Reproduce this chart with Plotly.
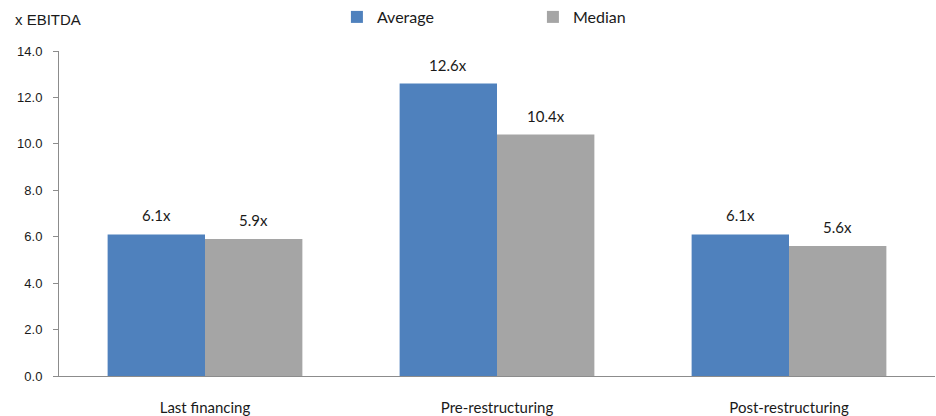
import plotly.graph_objects as go

categories = ["Last financing", "Pre-restructuring", "Post-restructuring"]
average = [6.1, 12.6, 6.1]
median = [5.9, 10.4, 5.6]
y_ticks = [0, 2, 4, 6, 8, 10, 12, 14]

series = [("Average", average, "#4f81bd"), ("Median", median, "#a5a5a5")]

label_font = dict(family="Lato, Carlito, sans-serif", size=15, color="#1a1a1a")
axis_font = dict(family="Liberation Sans, Arial, sans-serif", size=13, color="#1a1a1a")

fig = go.Figure()
for name, values, color in series:
    fig.add_trace(go.Bar(
        name=name, x=categories, y=values,
        marker=dict(color=color, line=dict(width=0)),
        hoverinfo="x+y",
    ))

# value labels above each bar, offset half a bar width to the left/right of the category centre
plot_w = 936 - 59 - 1
half_bar = plot_w / len(categories) * (1 - 0.333) / 2 / 2
annotations = []
for s, (name, values, color) in enumerate(series):
    shift = -half_bar if s == 0 else half_bar
    for cat, v in zip(categories, values):
        annotations.append(dict(
            x=cat, y=v, xref="x", yref="y", text=f"{v:.1f}x",
            xshift=shift, yshift=8, yanchor="bottom", xanchor="center",
            showarrow=False, font=label_font,
        ))

annotations.append(dict(
    text="x EBITDA", xref="paper", yref="paper", x=-0.053, y=1.098,
    xanchor="left", yanchor="middle", showarrow=False,
    font=dict(family="Liberation Sans, Arial, sans-serif", size=15, color="#1a1a1a"),
))

fig.update_layout(
    width=936, height=416,
    margin=dict(l=59, r=1, t=51, b=40),
    paper_bgcolor="white", plot_bgcolor="white",
    barmode="group", bargap=0.333, bargroupgap=0,
    showlegend=True,
    legend=dict(
        orientation="h", x=0.541, xref="paper", xanchor="center",
        y=1.0, yref="container", yanchor="top",
        font=dict(family="Lato, Carlito, sans-serif", size=16, color="#1a1a1a"),
        entrywidth=151, entrywidthmode="pixels",
        itemwidth=30, bgcolor="rgba(0,0,0,0)",
    ),
    annotations=annotations,
)

fig.update_xaxes(
    showline=True, linecolor="#8c8c8c", linewidth=1,
    showgrid=False, ticks="", zeroline=False,
    tickfont=label_font, ticklabelstandoff=18,
)
fig.update_yaxes(
    range=[0, 14], tickvals=y_ticks, tickformat=".1f",
    showline=True, linecolor="#8c8c8c", linewidth=1,
    ticks="outside", ticklen=5, tickcolor="#8c8c8c",
    ticklabelstandoff=8,
    showgrid=False, zeroline=False,
    tickfont=axis_font,
)

fig.write_html("out.html")
